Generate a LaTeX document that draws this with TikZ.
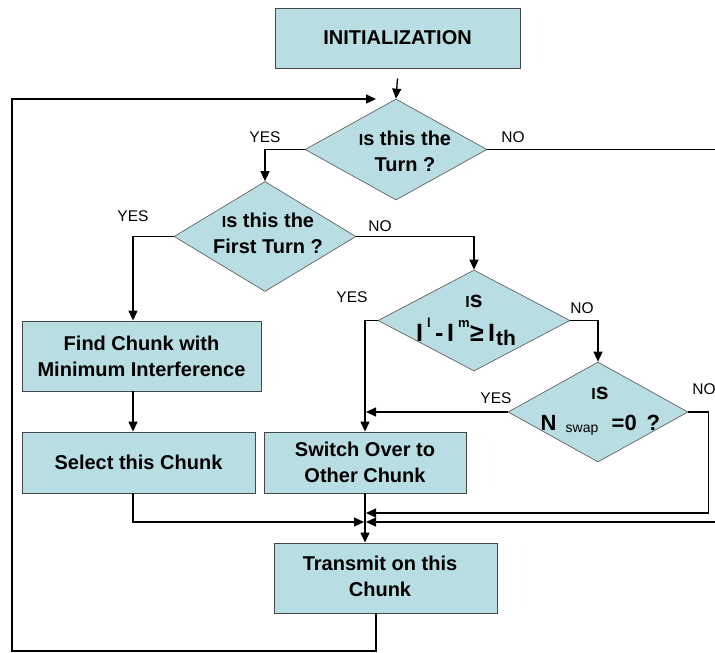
\documentclass[tikz,border=0pt]{standalone}
\usepackage{fontspec}
\setmainfont{Liberation Sans}
\usetikzlibrary{shapes.geometric,arrows.meta}
\definecolor{boxfill}{RGB}{184,222,227}
\definecolor{edgecol}{RGB}{70,70,70}
\newcommand{\smallI}{{\fontsize{16}{16}\selectfont I}}
\newcommand{\supsz}{\fontsize{13}{13}\selectfont}
\begin{document}
\begin{tikzpicture}[x=1pt,y=-1pt,
  box/.style={draw=edgecol, fill=boxfill, line width=0.9pt, inner sep=0pt, align=center, font=\bfseries\fontsize{20}{26}\selectfont},
  dia/.style={diamond, draw=edgecol!85, fill=boxfill, line width=0.7pt, inner sep=0pt},
  dtext/.style={align=center, inner sep=0pt, font=\bfseries\fontsize{20}{26}\selectfont},
  ftext/.style={inner sep=0pt, anchor=base west, font=\bfseries\fontsize{25}{25}\selectfont},
  lab/.style={inner sep=0pt, font=\fontsize{15.5}{16}\selectfont},
  arr/.style={line width=1.3pt, -{Triangle[length=10pt,width=9pt]}}]
\useasboundingbox (0,0) rectangle (715,653);

% boxes
\node[box, minimum width=245pt, minimum height=60pt] (init) at (397.5,38) {INITIALIZATION};
\node[box, minimum width=239pt, minimum height=70pt] (find) at (141.5,356) {Find Chunk with\\Minimum Interference};
\node[box, minimum width=233pt, minimum height=61pt] (select) at (138.5,462.5) {Select this Chunk};
\node[box, minimum width=202pt, minimum height=61pt] (switch) at (365,462.5) {Switch Over to\\Other Chunk};
\node[box, minimum width=223pt, minimum height=70pt] (transmit) at (385.5,578) {};
\node[dtext] (transmitt) at (380,576) {Transmit on this\\Chunk};

% decisions
\node[dia, minimum width=182pt, minimum height=101pt] (d1) at (396,149.5) {};
\node[dtext] (d1t) at (405,151) {\smallI s this the\\Turn ?};
\node[dia, minimum width=182pt, minimum height=110pt] (d2) at (265,236.5) {};
\node[dtext] (d2t) at (268,233) {\smallI s this the\\First Turn ?};
\node[dia, minimum width=192pt, minimum height=101pt] (d3) at (474,320.5) {};
\node[inner sep=0pt, anchor=base, font=\bfseries] (d3a) at (474,307) {\smallI{\fontsize{23}{23}\selectfont s}};
\node[ftext] (d3b) at (415.5,341) {\rlap{I}\rlap{\hspace{11pt}\raisebox{14pt}{\supsz l}}\rlap{\hspace{19pt}-}\rlap{\hspace{31pt}I}\rlap{\hspace{42pt}\raisebox{14pt}{\supsz m}}\rlap{\hspace{54pt}≥}\rlap{\hspace{72pt}I}\rlap{\hspace{80pt}\raisebox{-4pt}{\fontsize{21}{21}\selectfont th}}\hspace{108pt}};
\node[dia, minimum width=180pt, minimum height=100pt] (d4) at (598,412) {};
\node[inner sep=0pt, anchor=base, font=\bfseries] (d4a) at (600,399) {\smallI{\fontsize{23}{23}\selectfont s}};
\node[ftext, font=\bfseries\fontsize{22}{22}\selectfont] (d4b) at (540,430) {\rlap{N}\rlap{\hspace{25pt}\raisebox{-2pt}{\mdseries\fontsize{14}{14}\selectfont swap}}\rlap{\hspace{71pt}=0}\rlap{\hspace{106pt}?}\hspace{119pt}};

% labels
\node[lab] (y1) at (265,137) {YES};
\node[lab] (n1) at (513,137) {NO};
\node[lab] (y2) at (133,216) {YES};
\node[lab] (n2) at (380,226) {NO};
\node[lab] (y3) at (352,297) {YES};
\node[lab] (n3) at (582,308) {NO};
\node[lab] (y4) at (496,398) {YES};
\node[lab] (n4) at (704,389) {NO};

% helper coordinates
\coordinate (cL) at (133,0);
\coordinate (cB) at (376,0);
\coordinate (fb) at (376,99);
\coordinate (bl) at (12,651);
\coordinate (mR1) at (366,513);
\coordinate (mR2) at (366,522);
\coordinate (mL) at (364,522);
\coordinate (offR) at (740,0);

% connectors
\draw[arr] ([yshift=-10pt]init.south) -- (d1.north);
\draw[arr] (d1.west) -| (d2.north);
\draw[arr] (d1.east) -| (offR |- mR2) -- (mR2);
\draw[arr] (d2.west) -| (cL |- find.north);
\draw[arr] (d2.east) -| (d3.north);
\draw[arr] (cL |- find.south) -- (cL |- select.north);
\draw[arr] (cL |- select.south) |- (mL);
\draw[arr] (d3.west) -| (switch.north);
\draw[arr] (d3.east) -| (d4.north);
\draw[arr] (d4.west) -- (mR1 |- d4.west);
\draw[arr] (d4.east) -- ++(20,0) |- (mR1);
\draw[arr] (switch.south) -- (switch.south |- transmit.north);
\draw[arr] (cB |- transmit.south) |- (bl) |- (fb);
\end{tikzpicture}
\end{document}
